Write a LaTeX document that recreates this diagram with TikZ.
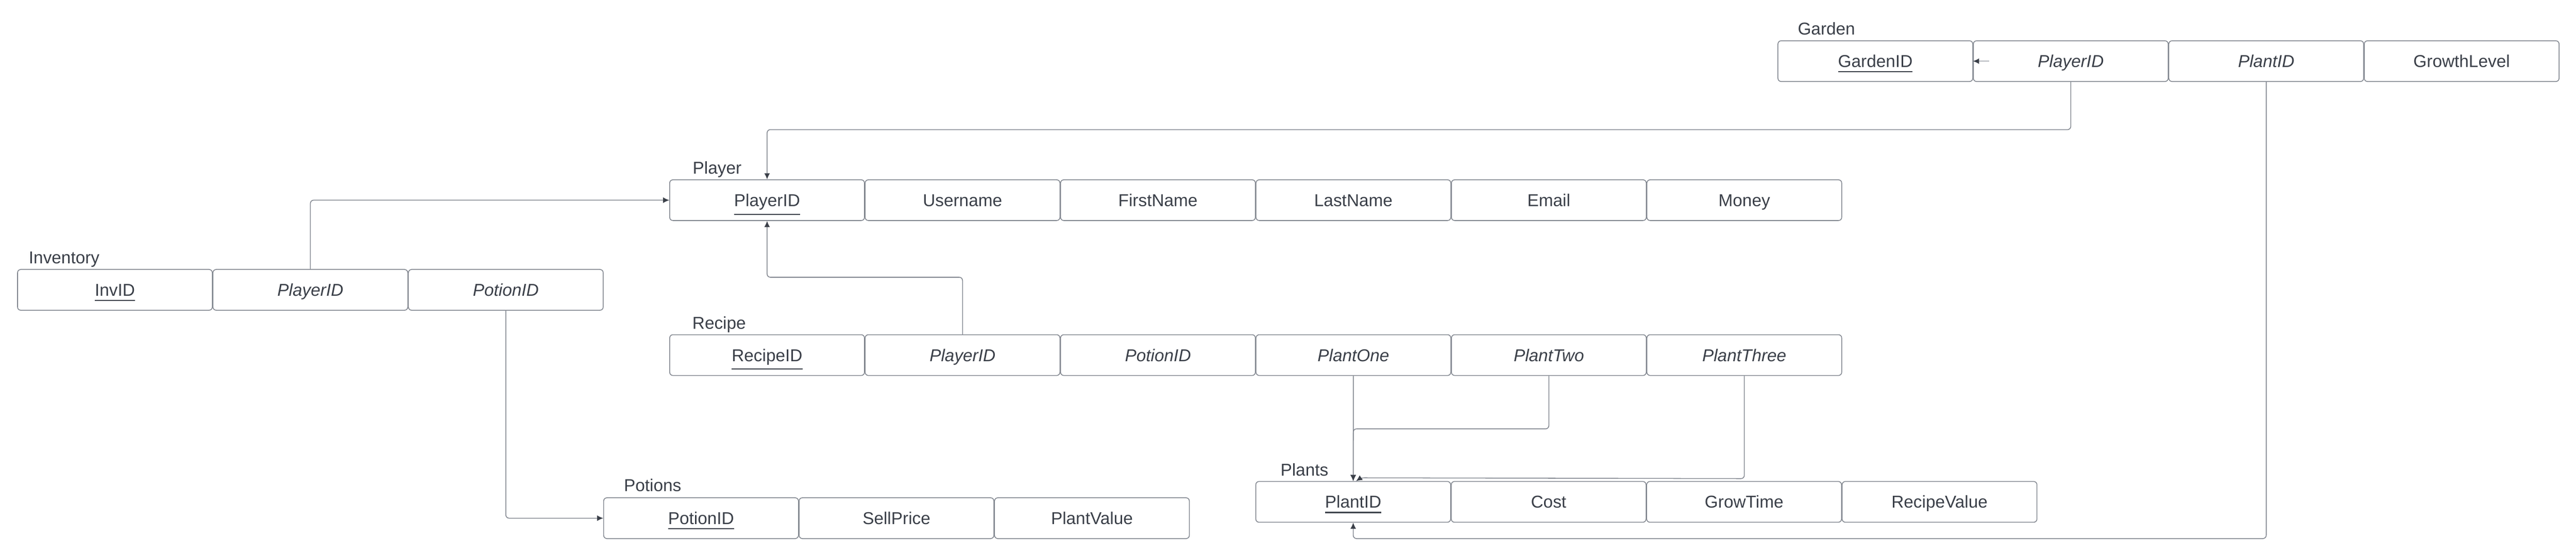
\documentclass[tikz,border=0pt]{standalone}
\usepackage{fontspec}
\setmainfont{Liberation Sans}
\usetikzlibrary{arrows.meta,calc}
\definecolor{txtcol}{HTML}{3A3F48}
\definecolor{bordercol}{HTML}{7F848D}
\definecolor{linecol}{HTML}{7F848D}
\definecolor{tipcol}{HTML}{3A3F48}
\newcommand{\keyu}[1]{\setbox0=\hbox{#1}\vtop{\copy0\kern2.6pt\hrule height 0.8pt width \wd0}}
\tikzset{
  cell/.style={draw=bordercol, line width=0.55pt, rounded corners=0.08cm,
    minimum width=4.78cm, minimum height=1.0cm, inner sep=0pt,
    text height=0.302cm, text depth=0pt, text=txtcol,
    font=\fontsize{12}{14}\selectfont, anchor=north west},
  fk/.style={cell, font=\fontsize{12}{14}\selectfont\itshape},
  tlabel/.style={anchor=base west, inner sep=0pt, text=txtcol, font=\fontsize{12}{14}\selectfont},
  conn/.style={draw=linecol, line width=0.55pt, rounded corners=0.08cm,
    -{Latex[length=0.15cm,width=0.14cm,color=tipcol]}}
}
\begin{document}
\begin{tikzpicture}
\useasboundingbox (0,0) rectangle (63.2,-13.61);
% Garden
\node[tlabel] (glab) at (44.10,-0.85) {Garden};
\node[cell] (g1) at (43.61,-0.99) {\keyu{GardenID}};
\node[fk]   (g2) at (48.405,-0.99) {PlayerID};
\node[fk]   (g3) at (53.20,-0.99) {PlantID};
\node[cell] (g4) at (57.995,-0.99) {GrowthLevel};
% Player
\node[tlabel] (plab) at (16.99,-4.26) {Player};
\node[cell] (p1) at (16.42,-4.40) {\keyu{PlayerID}};
\node[cell] (p2) at (21.215,-4.40) {Username};
\node[cell] (p3) at (26.01,-4.40) {FirstName};
\node[cell] (p4) at (30.805,-4.40) {LastName};
\node[cell] (p5) at (35.60,-4.40) {Email};
\node[cell] (p6) at (40.395,-4.40) {Money};
% Inventory
\node[tlabel] (ilab) at (0.70,-6.47) {Inventory};
\node[cell] (i1) at (0.42,-6.60) {\keyu{InvID}};
\node[fk]   (i2) at (5.215,-6.60) {PlayerID};
\node[fk]   (i3) at (10.01,-6.60) {PotionID};
% Recipe
\node[tlabel] (rlab) at (16.98,-8.07) {Recipe};
\node[cell] (r1) at (16.42,-8.20) {\keyu{RecipeID}};
\node[fk]   (r2) at (21.215,-8.20) {PlayerID};
\node[fk]   (r3) at (26.01,-8.20) {PotionID};
\node[fk]   (r4) at (30.805,-8.20) {PlantOne};
\node[fk]   (r5) at (35.60,-8.20) {PlantTwo};
\node[fk]   (r6) at (40.395,-8.20) {PlantThree};
% Potions
\node[tlabel] (polab) at (15.30,-12.05) {Potions};
\node[cell] (po1) at (14.80,-12.20) {\keyu{PotionID}};
\node[cell] (po2) at (19.595,-12.20) {SellPrice};
\node[cell] (po3) at (24.39,-12.20) {PlantValue};
% Plants
\node[tlabel] (pllab) at (31.41,-11.67) {Plants};
\node[cell] (pl1) at (30.80,-11.80) {\keyu{PlantID}};
\node[cell] (pl2) at (35.595,-11.80) {Cost};
\node[cell] (pl3) at (40.39,-11.80) {GrowTime};
\node[cell] (pl4) at (45.185,-11.80) {RecipeValue};
% Connectors
\coordinate (gtail) at ($(g2.west)+(0.4,0)$);
\coordinate (pl1in) at ($(pl1.north)+(0.07,0)$);
\draw[conn] (gtail) -- (g2.west);
\draw[conn] (g2.south) -- ++(0,-1.17) -| (p1.north);
\draw[conn] (i2.north) |- (p1.west);
\draw[conn] (r2.north) -- ++(0,1.40) -| (p1.south);
\draw[conn] (i3.south) |- (po1.west);
\draw[conn] (r4.south) -- (pl1.north);
\draw[conn] (r5.south) -- ++(0,-1.30) -| (pl1.north);
\draw[conn] (r6.south) -- ++(0,-2.52) -- ($(pl1in)+(0.12,0.08)$) -- (pl1in);
\draw[conn] (g3.south) -- ++(0,-11.20) -| (pl1.south);
\end{tikzpicture}
\end{document}
